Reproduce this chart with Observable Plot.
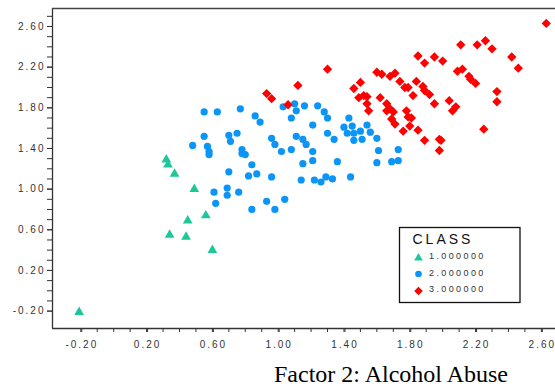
<!DOCTYPE html>
<html><head><meta charset="utf-8">
<script src="https://cdn.jsdelivr.net/npm/d3@7"></script>
<script src="https://cdn.jsdelivr.net/npm/@observablehq/plot@0.6"></script>
<style>
body{margin:0;background:#fff;}
#chart svg g[aria-label$="tick label"] text{letter-spacing:2px;}
</style></head><body><div id="chart"></div>
<script>
// CLASS 1 (triangles): [Factor 2, Factor 1]
const class1 = [[0.32,1.29],[0.33,1.24],[0.37,1.15],[0.49,1.00],[0.56,0.74],[0.45,0.69],[0.34,0.55],[0.44,0.53],[0.60,0.40],[-0.21,-0.21]];
// CLASS 2 (circles)
const class2 = [
[0.55,1.76],[0.63,1.76],[0.77,1.79],[0.86,1.72],[0.89,1.66],[1.03,1.81],[1.10,1.84],[1.11,1.77],[1.08,1.70],[1.16,1.82],
[1.24,1.82],[1.28,1.76],[1.30,1.70],[1.21,1.63],[0.55,1.52],[0.48,1.43],[0.70,1.53],[0.75,1.55],[0.71,1.47],[0.57,1.42],
[0.58,1.37],[0.58,1.34],[0.78,1.39],[0.78,1.35],[0.80,1.34],[0.96,1.50],[0.98,1.44],[1.02,1.37],[1.08,1.39],[1.11,1.52],
[1.15,1.49],[1.17,1.44],[1.30,1.55],[1.34,1.49],[1.43,1.70],[1.40,1.61],[1.45,1.62],[1.42,1.55],[1.46,1.55],[1.50,1.57],
[1.54,1.63],[1.56,1.56],[1.46,1.48],[1.51,1.49],[1.60,1.50],[1.21,1.37],[1.61,1.38],[1.73,1.39],[1.21,1.28],[1.15,1.25],
[1.36,1.27],[1.60,1.26],[1.69,1.27],[1.73,1.28],[1.14,1.09],[1.22,1.09],[1.26,1.07],[1.29,1.12],[1.33,1.10],[1.44,1.12],
[0.84,1.24],[0.70,1.17],[0.82,1.13],[0.87,1.15],[0.96,1.12],[0.61,0.97],[0.69,1.01],[0.69,0.94],[0.76,0.97],[0.62,0.86],
[0.84,0.80],[0.93,0.88],[0.98,0.80],[1.04,0.90]];
// CLASS 3 (diamonds)
const class3 = [
[2.63,2.63],[2.11,2.42],[2.21,2.42],[2.26,2.46],[2.30,2.38],[1.85,2.31],[1.89,2.24],[1.95,2.30],[2.00,2.26],[2.42,2.30],
[2.46,2.19],[1.30,2.18],[2.09,2.16],[2.12,2.18],[2.16,2.11],[2.17,2.08],[2.20,2.04],[1.12,2.02],[1.60,2.15],[1.63,2.13],
[1.68,2.11],[1.71,2.14],[1.74,2.06],[1.77,2.00],[1.79,2.00],[1.82,1.92],[1.84,2.06],[1.88,2.01],[1.89,1.97],[1.92,1.93],
[1.95,1.84],[1.50,2.05],[1.46,1.99],[1.49,1.90],[1.52,1.92],[1.54,1.91],[1.54,1.84],[1.55,1.77],[1.62,1.90],[1.66,1.84],
[1.66,1.77],[1.68,1.79],[1.70,1.76],[1.69,1.69],[1.71,1.64],[1.76,1.57],[1.78,1.77],[1.79,1.71],[1.80,1.62],[1.81,1.70],
[1.85,1.58],[1.89,1.48],[1.98,1.49],[1.99,1.48],[1.98,1.38],[2.04,1.87],[2.06,1.77],[2.08,1.81],[2.25,1.59],[2.33,1.96],
[2.33,1.86],[1.06,1.83],[0.93,1.94],[0.96,1.89]];

const classLabels = ["1.000000", "2.000000", "3.000000"];
const classColors = ["#1cc89a", "#0b95f6", "#ff0000"];
const classSymbols = [d3.symbolTriangle, d3.symbolCircle, d3.symbolDiamond2];
const classR = [3.6, 3.6, 4.2];
const classData = [class1, class2, class3];

const xMajor = [-0.20, 0.20, 0.60, 1.00, 1.40, 1.80, 2.20, 2.60];
const yMajor = [-0.20, 0.20, 0.60, 1.00, 1.40, 1.80, 2.20, 2.60];
const xMinor = d3.range(-2, 27).map(i => i / 10);
const yMinor = d3.range(-2, 28).map(i => i / 10);
const xDomain = [-0.372, 2.686];
const yDomain = [-0.371, 2.777];
const axisTitle = "Factor 2: Alcohol Abuse";
const legendTitle = "CLASS";

const fmt = d => d.toFixed(2);
const ink = "#333";

const table = classData.map((pts, i) => pts.map(([x, y]) => ({x, y, c: classLabels[i]})));

const plot = Plot.plot({
  width: 555,
  height: 389,
  marginLeft: 52,
  marginRight: 0,
  marginTop: 8,
  marginBottom: 61,
  x: {domain: xDomain, label: null},
  y: {domain: yDomain, label: null},
  style: {fontFamily: "'Liberation Sans', Arial, sans-serif", fontSize: "10px", color: ink, background: "#fff"},
  marks: [
    Plot.axisY(yMinor, {tickSize: 5, tickFormat: () => "", stroke: ink, label: null}),
    Plot.axisY(yMajor, {tickSize: 5, tickPadding: 2, tickFormat: fmt, stroke: ink, fill: ink, label: null}),
    Plot.axisX(xMinor, {tickSize: 4, tickFormat: () => "", stroke: ink, label: null}),
    Plot.axisX(xMajor, {tickSize: 4, tickPadding: 8, tickFormat: fmt, stroke: ink, fill: ink, dx: 1, label: null}),
    Plot.ruleX([xDomain[0]], {stroke: ink, strokeWidth: 1.3}),
    Plot.ruleY([yDomain[0]], {stroke: ink, strokeWidth: 1.3}),
    Plot.ruleY([yDomain[1]], {stroke: "#444", strokeWidth: 1.6}),
    Plot.dot(table[1], {x: "x", y: "y", symbol: "circle", r: classR[1], fill: classColors[1]}),
    Plot.dot(table[0], {x: "x", y: "y", symbol: "triangle", r: classR[0], fill: classColors[0]}),
    Plot.dot(table[2], {x: "x", y: "y", symbol: "diamond2", r: classR[2], fill: classColors[2]})
  ]
});

const svg = d3.select(plot);
// axis title
svg.append("text")
  .attr("x", 274).attr("y", 382)
  .attr("text-anchor", "start")
  .attr("font-family", "'Liberation Serif', 'Times New Roman', serif")
  .attr("font-size", 24)
  .attr("fill", "#000")
  .text(axisTitle);

// legend
const lg = svg.append("g").attr("transform", "translate(399.5,227.5)").attr("text-anchor", "start");
lg.append("rect").attr("width", 120.5).attr("height", 75).attr("fill", "#fff").attr("stroke", "#111").attr("stroke-width", 1.3);
lg.append("text").attr("x", 13).attr("y", 16.5)
  .attr("font-size", 14).attr("letter-spacing", "3px").attr("fill", "#111")
  .attr("font-family", "'Liberation Sans', Arial, sans-serif")
  .text(legendTitle);
const rowY = [31, 48.2, 64.2];
const symY = [30.5, 46.5, 63.5];
classLabels.forEach((lab, i) => {
  lg.append("path")
    .attr("transform", `translate(19,${symY[i]})`)
    .attr("d", d3.symbol().type(classSymbols[i]).size(Math.PI * classR[i] * classR[i] * (i === 0 ? 0.8 : 0.85))())
    .attr("fill", classColors[i]);
  lg.append("text").attr("x", 29.5).attr("y", rowY[i])
    .attr("font-size", 9).attr("letter-spacing", "2.4px").attr("fill", ink)
    .attr("font-family", "'Liberation Sans', Arial, sans-serif")
    .text(lab);
});

document.getElementById("chart").appendChild(plot);
</script></body></html>
